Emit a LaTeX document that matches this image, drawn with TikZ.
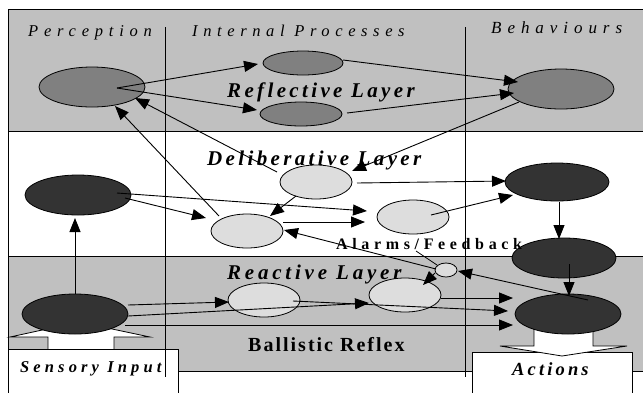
\documentclass[tikz,border=0pt]{standalone}
\usepackage{fontspec}
\setmainfont{Liberation Serif}
\usetikzlibrary{arrows.meta,shapes.geometric,calc}
\definecolor{band}{HTML}{C0C0C0}
\definecolor{midfill}{HTML}{808080}
\definecolor{darkfill}{HTML}{333333}
\definecolor{lightfill}{HTML}{DDDDDD}
% tracked (letter-spaced) text
\newcommand{\trk}[2]{{\addfontfeature{LetterSpace=#1}#2}}
\begin{document}
\begin{tikzpicture}[x=1pt,y=-1pt,
  el/.style={ellipse,draw=black,line width=0.8pt,inner sep=0pt},
  mid/.style={el,fill=midfill},
  dark/.style={el,fill=darkfill},
  light/.style={el,fill=lightfill},
  big/.style={minimum width=106pt,minimum height=40pt},
  small/.style={minimum width=72pt,minimum height=34pt},
  arr/.style={line width=0.9pt,-{Triangle[length=14pt,width=11pt]}},
  lbl/.style={anchor=base west,inner sep=0pt},
  plain/.style={font=\fontsize{16.5}{18}\selectfont\itshape},
  layer/.style={font=\fontsize{21}{23}\selectfont\bfseries\itshape},
  boxed/.style={draw=black,line width=0.8pt,fill=white,anchor=north west,inner sep=0pt},
  blockarrow/.style={draw=black,line width=0.8pt,fill=white}]
\useasboundingbox (0,0) rectangle (643,392);

% layer bands
\draw[line width=0.8pt,fill=band] (8,9) rectangle (646,131);
\draw[line width=0.8pt,fill=white] (8,131) rectangle (646,256);
\draw[line width=0.8pt,fill=band] (8,256) rectangle (646,371);

% sensory input: block arrow and box
\draw[blockarrow] (48,352) -- (48,337) -- (10,337) -- (79,322) -- (150,337) -- (114,337) -- (114,352);
\node[boxed,minimum width=170pt,minimum height=55pt] (sens) at (8,349) {};
% actions: box and block arrow
\node[boxed,minimum width=160pt,minimum height=50pt] (act) at (472,352) {};
\draw[blockarrow] (534,320) -- (534,346) -- (500,346) -- (562,356) -- (627,346) -- (593,346) -- (593,320);

% column separators
\draw[line width=0.9pt] (165,27) -- (165,377);
\draw[line width=0.9pt] (465,27) -- (465,377);

% reflective layer
\node[mid,big] (P1) at (92,87) {};
\node[mid,minimum width=80pt,minimum height=24pt] (IR1) at (303,63) {};
\node[mid,minimum width=82pt,minimum height=24pt] (IR2) at (301,114) {};
\node[mid,big] (B1) at (561,89) {};
% deliberative layer
\node[dark,big] (P2) at (78,195) {};
\node[light,small] (D1) at (316,182) {};
\node[light,small] (D2) at (247,231) {};
\node[light,small] (D3) at (413,217) {};
\node[dark,minimum width=104pt,minimum height=38pt] (B2) at (557,182) {};
\node[dark,minimum width=104pt,minimum height=40pt] (B3) at (564,258) {};
% reactive layer
\node[dark,big] (S1) at (75,314) {};
\node[light,small] (R1) at (264,300) {};
\node[light,small] (R2) at (405,295) {};
\node[light,minimum width=22pt,minimum height=14pt] (A) at (446,270) {};
\node[dark,big] (B4) at (568,314) {};

% labels
\node[lbl,plain] (tperc) at (28,36) {\trk{35}{Perception}};
\node[lbl,plain] (tint) at (192,36) {\trk{34}{Internal Processes}};
\node[lbl,plain,font=\fontsize{17}{19}\selectfont\itshape] (tbeh) at (491,33) {\trk{35}{Behaviours}};
\node[lbl,layer] (trefl) at (227,97) {\trk{16}{Reflective Layer}};
\node[lbl,layer] (tdelib) at (207,165) {\trk{16}{Deliberative Layer}};
\node[lbl,layer] (treact) at (227,279) {\trk{18}{Reactive Layer}};
\node[lbl,font=\fontsize{16}{18}\selectfont\bfseries] (talarm) at (336,249) {\trk{29}{Alarms/Feedback}};
\node[lbl,font=\fontsize{20}{22}\selectfont\bfseries] (tball) at (248,351) {\trk{10}{Ballistic Reflex}};
\node[lbl,font=\fontsize{16.5}{18}\selectfont\bfseries\itshape] (tsens) at (20,372) {\trk{25}{Sensory Input}};
\node[lbl,font=\fontsize{18.5}{20}\selectfont\bfseries\itshape] (tact) at (512,375) {\trk{17}{Actions}};

% connectors
\draw[arr] ($(P1)+(25,1)$) -- ($(IR1)+(-45,1)$);
\draw[arr] ($(P1)+(25,1)$) -- ($(IR2)+(-44,-4)$);
\draw[arr] ($(IR1)+(40,-3)$) -- ($(B1)+(-43,-7)$);
\draw[arr] ($(IR2)+(46,-1)$) -- ($(B1)+(-47,4)$);
\draw[arr] ($(D1)+(-39,-10)$) -- ($(P1)+(43,11)$);
\draw[arr] ($(D2)+(-28,-15)$) -- ($(P1)+(23,19)$);
\draw[arr] ($(B1)+(-42,13)$) -- ($(D1)+(36,-11)$);
\draw[arr] ($(D1)+(41,1)$) -- ($(B2)+(-51,-1)$);
\draw[arr] ($(D1)+(-20,14)$) -- ($(D2)+(23,-15)$);
\draw[arr] ($(P2)+(39,-2)$) -- ($(D3)+(-46,-6)$);
\draw[arr] ($(P2)+(47,3)$) -- ($(D2)+(-41,-13)$);
\draw[arr] ($(D2)+(36,-9)$) -- ($(D3)+(-48,5)$);
\draw[arr] ($(D3)+(18,-2)$) -- ($(B2)+(-44,13)$);
\draw[arr] ($(B2)+(2,20)$) -- ($(B3)+(-5,-19)$);
\draw[arr] ($(B3)+(5,6)$) -- ($(B4)+(1,-18)$);
\draw[arr] ($(B4)+(20,-14)$) -- ($(A)+(12,1)$);
\draw[arr] ($(A)+(-10,-1)$) -- ($(D2)+(37,-1)$);
\draw[line width=0.8pt] ($(talarm.base west)+(80,2)$) -- ($(A)+(-9,-5)$);
\draw[arr] ($(A)+(-11,3)$) -- ($(R2)+(18,-10)$);
\draw[arr] ($(S1)+(53,-9)$) -- ($(R1)+(-35,2)$);
\draw[arr] ($(S1)+(53,2)$) -- ($(R2)+(-36,8)$);
\draw[arr] ($(R2)+(36,3)$) -- ($(B4)+(-55,-16)$);
\draw[arr] ($(R1)+(29,1)$) -- ($(B4)+(-60,-3)$);
\draw[arr] ($(S1)+(50,11)$) -- ($(B4)+(-55,11)$);
\draw[arr] ($(S1)+(0,-20)$) -- ($(P2)+(-3,23)$);
\end{tikzpicture}
\end{document}
